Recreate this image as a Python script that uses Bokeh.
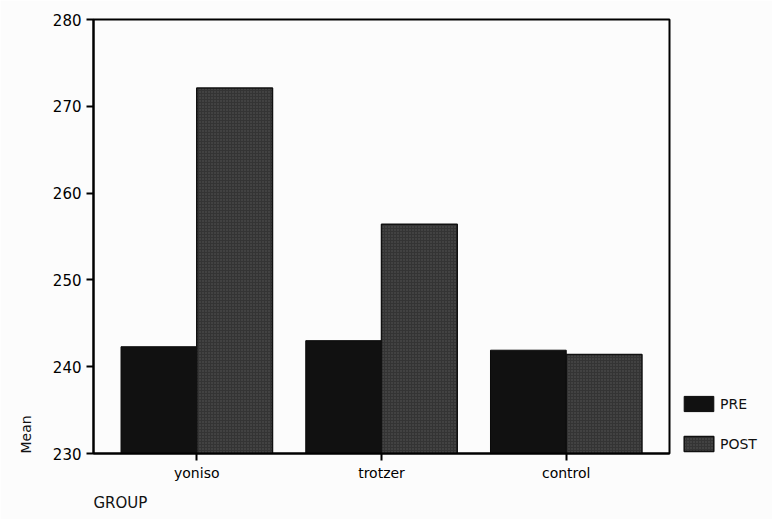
from bokeh.plotting import figure
from bokeh.models import (FactorRange, Range1d, Legend, LegendItem, Title,
                          ColumnDataSource, FixedTicker)
from bokeh.transform import dodge
from bokeh.embed import file_html
from bokeh.resources import INLINE

groups = ["yoniso", "trotzer", "control"]
pre = [242.3, 243.0, 241.9]
post = [272.1, 256.4, 241.4]
series = ["PRE", "POST"]
yticks = [230, 240, 250, 260, 270, 280]
x_title = "GROUP"
y_title = "Mean"

src = ColumnDataSource(dict(group=groups, pre=pre, post=post))

FONT = "DejaVu Sans"
BG = "#fcfcfc"

p = figure(x_range=FactorRange(*groups, range_padding=0.059, range_padding_units="absolute"),
           y_range=Range1d(yticks[0], yticks[-1]),
           frame_width=576, frame_height=434,
           output_backend="svg", toolbar_location=None,
           min_border_left=93, min_border_top=19, min_border_right=87,
           min_border_bottom=61,
           background_fill_color=BG, border_fill_color=BG)

r_pre = p.vbar(x=dodge("group", -0.205, range=p.x_range), top="pre", bottom=yticks[0],
               width=0.41, source=src, fill_color="#111111", line_color="#0a0a0a",
               line_width=1)
r_post = p.vbar(x=dodge("group", 0.205, range=p.x_range), top="post", bottom=yticks[0],
                width=0.41, source=src, fill_color="#343434", line_color="#111111",
                line_width=1.5, hatch_pattern="dot", hatch_color="#6a6a6a",
                hatch_scale=3, hatch_alpha=0.6)

p.xgrid.grid_line_color = None
p.ygrid.grid_line_color = None
p.outline_line_color = "black"
p.outline_line_width = 2
p.outline_line_alpha = 1

p.yaxis.ticker = FixedTicker(ticks=yticks)
for ax in (p.xaxis[0], p.yaxis[0]):
    ax.axis_line_width = 2
    ax.axis_line_color = "black"
    ax.major_tick_line_width = 2
    ax.major_tick_line_color = "black"
    ax.major_tick_out = 7
    ax.major_tick_in = 0
    ax.minor_tick_line_color = None
    ax.major_label_text_font = FONT
    ax.major_label_text_color = "#000000"
p.yaxis.major_label_text_font_size = "15px"
p.yaxis.major_label_standoff = 5
p.xaxis.major_label_text_font_size = "14px"
p.xaxis.major_label_standoff = 4

p.add_layout(Title(text=y_title, align="left", text_font=FONT, text_font_size="14px",
                   text_font_style="normal", text_color="#111111", standoff=31), "left")
p.add_layout(Title(text=x_title, align="left", text_font=FONT, text_font_size="15px",
                   text_font_style="normal", text_color="#111111", standoff=16), "below")

legend = Legend(items=[LegendItem(label=series[0], renderers=[r_pre]),
                       LegendItem(label=series[1], renderers=[r_post])],
                location=(11, 0), glyph_width=37, glyph_height=19,
                spacing=21, padding=0, margin=0, label_standoff=3,
                label_text_font=FONT, label_text_font_size="14px",
                label_text_color="#111111",
                border_line_color=None, background_fill_alpha=0)
p.add_layout(legend, "right")

open("out.html", "w").write(file_html(p, INLINE))
